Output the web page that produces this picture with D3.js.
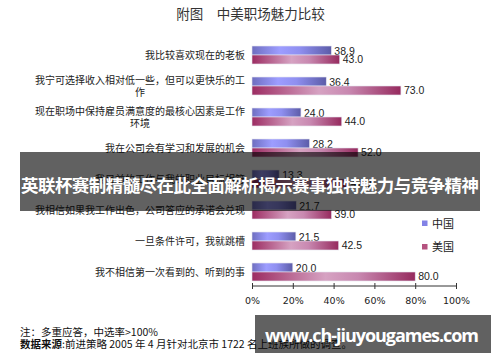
<!DOCTYPE html>
<html><head><meta charset="utf-8">
<script src="https://cdn.jsdelivr.net/npm/d3@7"></script>
<style>
html,body{margin:0;padding:0;background:#fff;}
svg{display:block;}
</style></head>
<body>
<svg id="c" width="500" height="362"></svg>
<script>
const categories = [
  ["我比较喜欢现在的老板"],
  ["我宁可选择收入相对低一些，但可以更快乐的工", "作"],
  ["现在职场中保持雇员满意度的最核心因素是工作", "环境"],
  ["我在公司会有学习和发展的机会"],
  ["我目前的工作与我的职业目标相符"],
  ["我相信如果我工作出色，公司答应的承诺会兑现"],
  ["一旦条件许可，我就跳槽"],
  ["我不相信第一次看到的、听到的事"]
];
const seriesNames = ["中国", "美国"];
const china = [38.9, 36.4, 24.0, 28.2, 13.3, 21.7, 21.5, 20.0];
const usa   = [43.0, 73.0, 44.0, 52.0, 47.0, 39.0, 42.5, 80.0];
const tickValues = [0, 20, 40, 60, 80, 100];
const title = "附图　中美职场魅力比较";
const note1 = "注：多重应答，中选率>100%";
const note2b = "数据来源";
const note2 = ":前进策略 2005 年 4 月针对北京市 1722 名上班族所做的调查。";
const banner = "英联杯赛制精髓尽在此全面解析揭示赛事独特魅力与竞争精神";
const site = "www.ch-jiuyougames.com";

const svg = d3.select("#c");
const cjk = "'Noto Sans CJK SC', 'Noto Sans', sans-serif";
const num = "'Liberation Sans', Arial, sans-serif";

const defs = svg.append("defs");
function grad(id, stops){
  const g = defs.append("linearGradient").attr("id", id).attr("x1",0).attr("x2",1).attr("y1",0).attr("y2",0);
  stops.forEach(s => g.append("stop").attr("offset", s[0]).attr("stop-color", s[1]));
}
grad("gCN", [[0,"#6e6ec0"],[0.35,"#9d9dff"],[0.6,"#8f8ff0"],[1,"#5c5ca8"]]);
grad("gUS", [[0,"#9c2c62"],[0.45,"#d6a2c2"],[0.65,"#c888b0"],[1,"#962a5e"]]);

const x = d3.scaleLinear().domain([0,100]).range([252,456]);
const y = d3.scaleBand().domain(d3.range(categories.length)).range([39.5,287.5]).paddingInner(0.42).paddingOuter(0.21);
const bw = y.bandwidth()/2;

// title
svg.append("text").attr("x",250.5).attr("y",19).attr("text-anchor","middle")
  .attr("font-family",cjk).attr("font-size",13.5).attr("fill","#333").text(title);

// bars
const g = svg.append("g");
const series = [{vals:china, fill:"url(#gCN)", off:0},{vals:usa, fill:"url(#gUS)", off:bw}];
series.forEach(s => {
  g.selectAll(null).data(s.vals).enter().append("rect")
    .attr("x", x(0)).attr("y", (d,i)=>y(i)+s.off)
    .attr("width", d=>x(d)-x(0)).attr("height", bw)
    .attr("fill", s.fill).attr("stroke","#e4e4ee").attr("stroke-width",0.6);
  g.selectAll(null).data(s.vals).enter().append("text")
    .attr("x", d=>x(d)+3).attr("y", (d,i)=>y(i)+s.off+bw/2+4)
    .attr("font-family",num).attr("font-size",10.5).attr("fill","#222")
    .text(d=>d.toFixed(1));
});

// category labels
categories.forEach((lines,i)=>{
  const cy = y(i)+y.bandwidth()/2;
  if(lines.length===1){
    svg.append("text").attr("x",245).attr("y",cy+3.5).attr("text-anchor","end")
      .attr("font-family",cjk).attr("font-size",10).attr("fill","#222").text(lines[0]);
  } else {
    lines.forEach((l,j)=>{
      svg.append("text").attr("x",140).attr("y",cy-6+j*12.5+3.5).attr("text-anchor","middle")
        .attr("font-family",cjk).attr("font-size",10).attr("fill","#222").text(l);
    });
  }
});

// axis
const axis = d3.axisBottom(x).tickValues(tickValues).tickSize(3).tickFormat(d=>d+"%");
const ag = svg.append("g").attr("transform","translate(0,286)").call(axis);
ag.select(".domain").attr("d", `M${x(0)},0H${x(100)}`).attr("stroke","#333");
ag.selectAll(".tick line").attr("y1",-3).attr("y2",3).attr("stroke","#333");
ag.selectAll(".tick text").attr("y",11).attr("font-family","'DejaVu Sans', sans-serif").attr("font-size",9.5).attr("fill","#222");

// legend
const lg = svg.append("g");
const legColors = ["#8282e6","#b5527f"];
seriesNames.forEach((n,i)=>{
  const ly = 223.5 + i*23.5;
  lg.append("rect").attr("x",422).attr("y",ly-3).attr("width",5.5).attr("height",5.5).attr("fill",legColors[i]);
  lg.append("text").attr("x",432).attr("y",ly+4).attr("font-family",cjk).attr("font-size",11).attr("fill","#222").text(n);
});

// notes
svg.append("text").attr("x",20).attr("y",336).attr("font-family",cjk).attr("font-size",10.5).attr("fill","#111").text(note1);
const t2 = svg.append("text").attr("x",20).attr("y",348).attr("font-family",cjk).attr("font-size",10.5).attr("fill","#111");
t2.append("tspan").attr("font-weight","bold").text(note2b);
t2.append("tspan").text(note2);

// overlays
svg.append("rect").attr("x",20).attr("y",152).attr("width",460).attr("height",59).attr("fill","rgba(0,0,0,0.62)");
svg.append("text").attr("x",250).attr("y",192).attr("text-anchor","middle").attr("font-family",cjk)
  .attr("font-weight","bold").attr("font-size",17.5).attr("fill","#fff").attr("textLength",458).text(banner);
svg.append("rect").attr("x",255).attr("y",315).attr("width",236).attr("height",38).attr("fill","rgba(0,0,0,0.62)");
svg.append("text").attr("x",372).attr("y",342).attr("text-anchor","middle").attr("font-family","'Open Sans', 'DejaVu Sans', sans-serif")
  .attr("font-weight","bold").attr("font-size",18).attr("fill","#fff").attr("textLength",214).text(site);
</script>
</body></html>
